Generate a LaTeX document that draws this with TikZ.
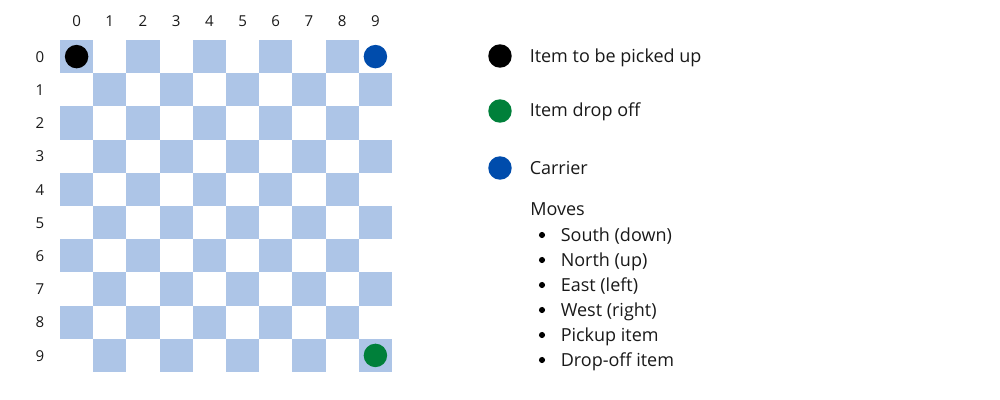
\documentclass[tikz,border=0pt]{standalone}
\usepackage{fontspec}
\setmainfont{Open Sans}
\definecolor{cellblue}{RGB}{173,197,231}
\definecolor{dropgreen}{RGB}{0,128,58}
\definecolor{carrierblue}{RGB}{0,76,172}
\tikzset{
  cell/.style={fill=cellblue, draw=none, minimum size=24.9pt, inner sep=0pt, outer sep=0pt},
  lab/.style={font=\fontsize{11.3pt}{13pt}\selectfont, inner sep=0pt, anchor=base, text=black!90},
  dot/.style={circle, draw=none, minimum size=17.6pt, inner sep=0pt},
  txt/.style={font=\fontsize{13.5pt}{18pt}\selectfont, inner sep=0pt, anchor=base west, text=black!90},
  bul/.style={circle, fill=black, draw=none, minimum size=4.6pt, inner sep=0pt}
}
\begin{document}
\begin{tikzpicture}[x=0.75pt,y=-0.75pt]
\useasboundingbox (0,0) rectangle (1000,400);
% checkerboard
\foreach \r in {0,...,9}{
  \foreach \c in {0,...,9}{
    \ifodd\numexpr\r+\c\relax
    \else
      \node[cell] (c-\r-\c) at ({76.6+33.2*\c},{56.6+33.2*\r}) {};
    \fi
  }
}
% labels
\foreach \c in {0,...,9}{
  \node[lab] (col\c) at ({76.6+33.2*\c},26.7) {\c};
}
\foreach \r in {0,...,9}{
  \node[lab] (row\r) at (40,{62.2+33.2*\r}) {\r};
}
% items
\node[dot, fill=black] (pick) at (c-0-0) {};
\node[dot, fill=carrierblue] (carrier) at ({76.6+33.2*9},56.6) {};
\node[dot, fill=dropgreen] (drop) at (c-9-9) {};
% legend
\node[dot, fill=black] (lg1) at (500,56) {};
\node[txt] (lt1) at (529.5,62.3) {Item to be picked up};
\node[dot, fill=dropgreen] (lg2) at (500,111) {};
\node[txt] (lt2) at (529.5,116.7) {Item drop off};
\node[dot, fill=carrierblue] (lg3) at (500,168) {};
\node[txt] (lt3) at (529.5,174) {Carrier};
% moves
\node[txt] (moves) at (530,215) {Moves};
\foreach \i/\t in {0/South (down),1/North (up),2/East (left),3/West (right),4/Pickup item,5/Drop-off item}{
  \node[bul] (b\i) at (542,{235+25*\i}) {};
  \node[txt] (m\i) at (560.5,{241+25*\i}) {\t};
}
\end{tikzpicture}
\end{document}
